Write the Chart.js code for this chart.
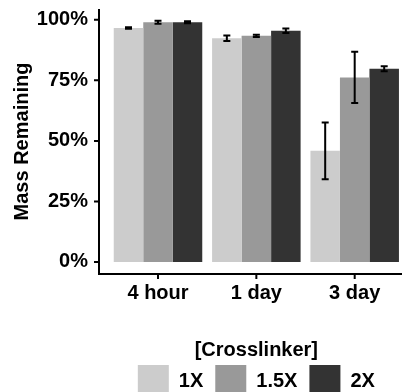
<!DOCTYPE html>
<html><head><meta charset="utf-8">
<script src="https://cdn.jsdelivr.net/npm/chart.js@4"></script>
<style>
html,body{margin:0;padding:0;overflow:hidden;background:#fff;width:402px;height:392px;}
canvas{display:block;}
</style></head>
<body>
<canvas id="c" width="416" height="407"></canvas>
<script>
// ---- data ----
const categories = ['4 hour', '1 day', '3 day'];
const categoryPositions = [1, 2, 3];
const seriesNames = ['1X', '1.5X', '2X'];
const mass1X = [96.6, 92.4, 45.9];
const mass15X = [99.0, 93.4, 76.2];
const mass2X = [99.0, 95.5, 79.8];
const err1X = [0.3, 1.1, 11.7];
const err15X = [0.6, 0.45, 10.6];
const err2X = [0.4, 0.9, 1.0];
const yTicks = [0, 25, 50, 75, 100];
const yTitle = 'Mass Remaining';
const legendTitle = '[Crosslinker]';
const colors = ['#CCCCCC', '#999999', '#333333'];

Chart.defaults.font.family = "'Liberation Sans', Arial, Helvetica, sans-serif";
Chart.defaults.color = '#000';

const seriesValues = [mass1X, mass15X, mass2X];
const seriesErrors = [err1X, err15X, err2X];

const datasets = seriesNames.map((name, i) => ({
  label: name,
  data: categoryPositions.map((x, j) => ({ x: x, y: seriesValues[i][j] })),
  errors: seriesErrors[i],
  backgroundColor: colors[i],
  borderWidth: 0,
  barPercentage: 1.0,
  categoryPercentage: 0.9
}));

// axis lines and tick marks, placed through the chart's own scales
const axesPlugin = {
  id: 'axesLines',
  afterDatasetsDraw(chart) {
    const ctx = chart.ctx, a = chart.chartArea;
    const xs = chart.scales.x, ys = chart.scales.y;
    ctx.save();
    ctx.strokeStyle = '#000';
    ctx.lineWidth = 2;
    ctx.lineCap = 'butt';
    ctx.beginPath();
    ctx.moveTo(a.left, a.top); ctx.lineTo(a.left, a.bottom + 1);
    ctx.moveTo(a.left - 1, a.bottom); ctx.lineTo(a.right, a.bottom);
    yTicks.forEach(t => {
      const py = ys.getPixelForValue(t);
      ctx.moveTo(a.left - 5, py); ctx.lineTo(a.left, py);
    });
    categoryPositions.forEach(p => {
      const px = xs.getPixelForValue(p);
      ctx.moveTo(px, a.bottom); ctx.lineTo(px, a.bottom + 5);
    });
    ctx.stroke();
    ctx.restore();
  }
};

const errorBars = {
  id: 'errorBars',
  afterDatasetsDraw(chart) {
    const ctx = chart.ctx;
    const ys = chart.scales.y;
    chart.data.datasets.forEach((ds, i) => {
      const meta = chart.getDatasetMeta(i);
      meta.data.forEach((bar, j) => {
        const v = ds.data[j].y, e = ds.errors[j];
        const top = ys.getPixelForValue(v + e);
        const bot = ys.getPixelForValue(v - e);
        const x = bar.x, hw = 3.5;
        ctx.save();
        ctx.strokeStyle = '#000';
        ctx.lineWidth = 2;
        ctx.beginPath();
        ctx.moveTo(x, top); ctx.lineTo(x, bot);
        ctx.moveTo(x - hw, top); ctx.lineTo(x + hw, top);
        ctx.moveTo(x - hw, bot); ctx.lineTo(x + hw, bot);
        ctx.stroke();
        ctx.restore();
      });
    });
  }
};

new Chart(document.getElementById('c'), {
  type: 'bar',
  data: { datasets: datasets },
  plugins: [axesPlugin, errorBars],
  options: {
    responsive: false,
    animation: false,
    devicePixelRatio: 1,
    layout: { padding: { top: 9, right: 2.3, bottom: 0, left: 0 } },
    plugins: {
      tooltip: { enabled: false },
      legend: {
        position: 'bottom',
        fullSize: false,
        align: 'center',
        title: {
          display: true, text: legendTitle, color: '#000',
          font: { size: 20, weight: 'bold', lineHeight: 0.6 },
          padding: { top: 32, bottom: 1 }
        },
        labels: {
          boxWidth: 31, boxHeight: 32, padding: 12, color: '#000',
          font: { size: 20, weight: 'bold' }
        }
      }
    },
    scales: {
      x: {
        type: 'linear', min: 0.4, max: 3.6, offset: false,
        afterBuildTicks: s => { s.ticks = categoryPositions.map(v => ({ value: v })); },
        afterFit: s => { s.paddingLeft = 0; s.paddingRight = 0; },
        ticks: {
          callback: v => categories[categoryPositions.indexOf(v)],
          color: '#000', font: { size: 20, weight: 'bold' },
          padding: 3, maxRotation: 0, autoSkip: false
        },
        grid: { display: false, offset: false, drawOnChartArea: false, drawTicks: true, tickLength: 4 },
        border: { display: false }
      },
      y: {
        min: -4.97, max: 104.47,
        afterBuildTicks: s => { s.ticks = yTicks.map(v => ({ value: v })); },
        afterFit: s => { s.width = 99; s.paddingTop = 0; s.paddingBottom = 0; },
        ticks: {
          callback: v => v + '%',
          color: '#000', font: { size: 20, weight: 'bold' }, padding: 7
        },
        grid: { display: false, drawOnChartArea: false, drawTicks: true, tickLength: 4 },
        border: { display: false },
        title: {
          display: true, text: yTitle, color: '#000',
          font: { size: 20, weight: 'bold' },
          padding: { top: 10, bottom: 0 }
        }
      }
    }
  }
});
</script>
</body></html>
